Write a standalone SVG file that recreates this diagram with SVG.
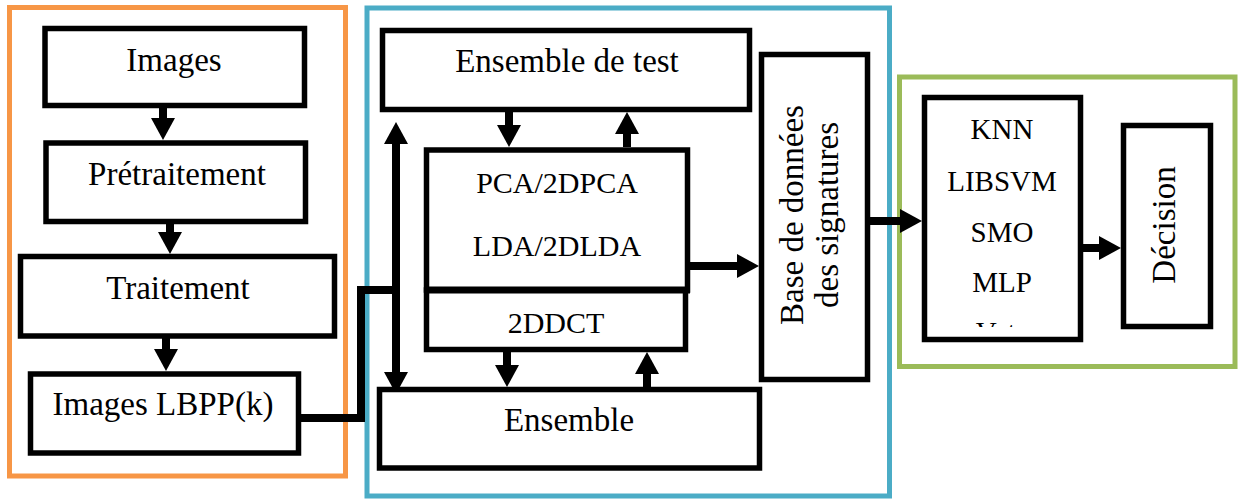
<svg xmlns="http://www.w3.org/2000/svg" width="1238" height="499" viewBox="0 0 1238 499">
  <style>
    .frame { fill: none; stroke-width: 5; }
    .box { fill: #ffffff; stroke: #000000; stroke-width: 5.5; }
    .lbl { font-family: "Liberation Serif", "Times New Roman", serif; font-size: 33px; fill: #000000; text-anchor: middle; }
    .sm { font-size: 30px; }
    .cls { font-size: 29px; }
    .wire { fill: none; stroke: #000000; stroke-width: 8; }
  </style>
  <defs>
    <marker id="head" markerUnits="userSpaceOnUse" markerWidth="24" markerHeight="24" viewBox="0 0 22 24" refX="12" refY="12" orient="auto-start-reverse">
      <path d="M0,0 L22,12 L0,24 z" fill="#000000"/>
    </marker>
    <clipPath id="lastLine">
      <rect x="927" y="300" width="151" height="27"/>
    </clipPath>
  </defs>

  <rect width="1238" height="499" fill="#ffffff"/>

  <!-- stage frames -->
  <g id="frames">
    <rect class="frame" x="9.5" y="7.5" width="336" height="468.5" stroke="#F79646"/>
    <rect class="frame" x="367" y="8" width="522.5" height="488" stroke="#4BACC6"/>
    <rect class="frame" x="899.5" y="77" width="335.5" height="289.5" stroke="#9BBB59"/>
  </g>

  <!-- connectors -->
  <g id="connectors">
    <line class="wire" x1="163" y1="108" x2="163" y2="130" marker-end="url(#head)"/>
    <line class="wire" x1="170" y1="224" x2="170" y2="244" marker-end="url(#head)"/>
    <line class="wire" x1="166" y1="338" x2="166" y2="361" marker-end="url(#head)"/>
    <polyline class="wire" stroke-width="7" points="301,418 361,418 361,290 400,290"/>
    <line class="wire" x1="396" y1="132" x2="396" y2="384" marker-start="url(#head)" marker-end="url(#head)"/>
    <line class="wire" x1="509" y1="112" x2="509" y2="137" marker-end="url(#head)"/>
    <line class="wire" x1="627" y1="147" x2="627" y2="122" marker-end="url(#head)"/>
    <line class="wire" x1="690" y1="266" x2="749" y2="266" marker-end="url(#head)"/>
    <line class="wire" x1="507" y1="352" x2="507" y2="377" marker-end="url(#head)"/>
    <line class="wire" x1="647" y1="387" x2="647" y2="362" marker-end="url(#head)"/>
    <line class="wire" x1="870" y1="221" x2="912" y2="221" marker-end="url(#head)"/>
    <line class="wire" x1="1083" y1="248" x2="1111" y2="248" marker-end="url(#head)"/>
  </g>

  <!-- preprocessing stage -->
  <g id="images">
    <rect class="box" x="45" y="28.5" width="259.5" height="77"/>
    <text class="lbl" x="174" y="71">Images</text>
  </g>
  <g id="pretraitement">
    <rect class="box" x="46" y="143" width="259.5" height="78.5"/>
    <text class="lbl" x="177" y="185">Prétraitement</text>
  </g>
  <g id="traitement">
    <rect class="box" x="20.5" y="256.5" width="314" height="79.5"/>
    <text class="lbl" x="178" y="299">Traitement</text>
  </g>
  <g id="images-lbpp">
    <rect class="box" x="30.5" y="374" width="268" height="79"/>
    <text class="lbl" x="163" y="415">Images LBPP(k)</text>
  </g>

  <!-- feature extraction stage -->
  <g id="ensemble-test">
    <rect class="box" x="382.5" y="30.5" width="367" height="79"/>
    <text class="lbl" x="567" y="72">Ensemble de test</text>
  </g>
  <g id="reduction">
    <rect class="box" x="426.5" y="150" width="261" height="140"/>
    <text class="lbl sm" x="557" y="193">PCA/2DPCA</text>
    <text class="lbl sm" x="557" y="256">LDA/2DLDA</text>
  </g>
  <g id="dct">
    <rect class="box" x="426.5" y="290" width="259" height="59.5"/>
    <line x1="424" y1="290" x2="690" y2="290" stroke="#000000" stroke-width="7"/>
    <text class="lbl sm" x="556" y="333">2DDCT</text>
  </g>
  <g id="ensemble">
    <rect class="box" x="379.5" y="389.5" width="380" height="78.5"/>
    <text class="lbl" x="569" y="431">Ensemble</text>
  </g>
  <g id="signatures">
    <rect class="box" x="761.5" y="54.5" width="106" height="325"/>
    <text class="lbl" transform="translate(803,215) rotate(-90)">Base de données</text>
    <text class="lbl" transform="translate(838,215) rotate(-90)">des signatures</text>
  </g>

  <!-- classification stage -->
  <g id="classifieurs">
    <rect class="box" x="924.5" y="97.5" width="156" height="242"/>
    <text class="lbl cls" x="1002" y="139">KNN</text>
    <text class="lbl cls" x="1002" y="191">LIBSVM</text>
    <text class="lbl cls" x="1002" y="242">SMO</text>
    <text class="lbl cls" x="1002" y="292">MLP</text>
    <!-- the list continues below the box edge; only the top of this line stays visible -->
    <text class="lbl cls" x="1002" y="342" clip-path="url(#lastLine)">Vote</text>
  </g>
  <g id="decision">
    <rect class="box" x="1123.5" y="125.5" width="87" height="201"/>
    <text class="lbl" transform="translate(1175,225) rotate(-90)">Décision</text>
  </g>
</svg>
